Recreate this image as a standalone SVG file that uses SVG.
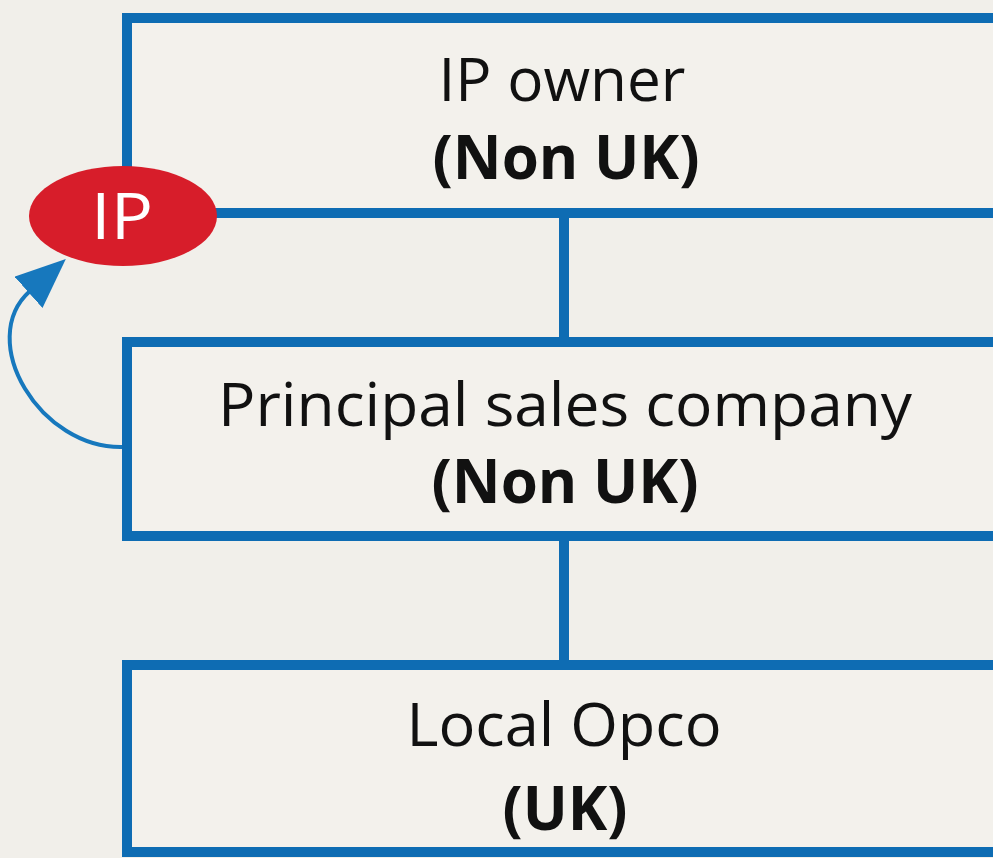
<svg xmlns="http://www.w3.org/2000/svg" width="993" height="858" viewBox="0 0 993 858">
  <style>
    .box { fill: #f3f1ec; stroke: #0e6cb3; stroke-width: 10; }
    .edge { fill: none; stroke: #0e6cb3; stroke-width: 10; }
    .lbl { font-family: "Open Sans", "Liberation Sans", sans-serif; font-size: 60px; fill: #111111; text-anchor: middle; }
    .b { font-weight: bold; }
  </style>
  <defs>
    <marker id="ah" viewBox="0 0 50 42" refX="2" refY="21" markerWidth="50" markerHeight="42" markerUnits="userSpaceOnUse" orient="auto">
      <path d="M0,0 L50,21 L0,42 z" fill="#1778bd"/>
    </marker>
  </defs>
  <rect width="993" height="858" fill="#f1efea"/>

  <g id="ip-owner">
    <rect x="127" y="18" width="900" height="195" fill="#f3f1ec"/>
    <path class="edge" d="M127 172 V18 H1000"/>
    <path class="edge" d="M210 213 H1000"/>
    <text class="lbl" x="562" y="101" textLength="247" lengthAdjust="spacingAndGlyphs">IP owner</text>
    <text class="lbl b" x="566" y="179" textLength="267" lengthAdjust="spacingAndGlyphs">(Non UK)</text>
  </g>

  <g id="connectors">
    <path class="edge" d="M564 213 V342"/>
    <path class="edge" d="M564 536 V665"/>
    <path d="M124 447 C40 450 -25 340 30 291" fill="none" stroke="#1778bd" stroke-width="4" marker-end="url(#ah)"/>
  </g>

  <g id="principal-sales">
    <rect class="box" x="127" y="342" width="900" height="194"/>
    <text class="lbl" x="565" y="426" textLength="694" lengthAdjust="spacingAndGlyphs">Principal sales company</text>
    <text class="lbl b" x="565" y="503" textLength="267" lengthAdjust="spacingAndGlyphs">(Non UK)</text>
  </g>

  <g id="local-opco">
    <rect class="box" x="127" y="665" width="900" height="187"/>
    <text class="lbl" x="564" y="746" textLength="315" lengthAdjust="spacingAndGlyphs">Local Opco</text>
    <text class="lbl b" x="565" y="830" textLength="125" lengthAdjust="spacingAndGlyphs">(UK)</text>
  </g>

  <g id="ip">
    <ellipse cx="123" cy="216" rx="94" ry="50" fill="#d71d2a"/>
    <text x="122" y="239" font-family="Open Sans, Liberation Sans, sans-serif" font-size="64" fill="#ffffff" text-anchor="middle" textLength="62" lengthAdjust="spacingAndGlyphs">IP</text>
  </g>
</svg>
